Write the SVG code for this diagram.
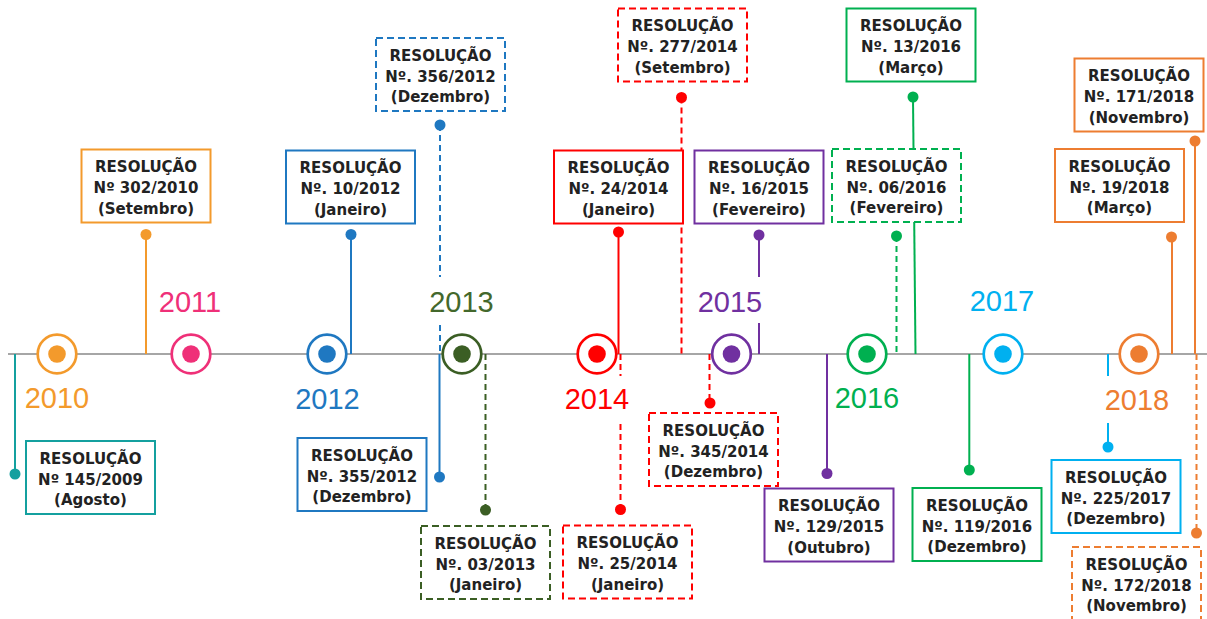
<svg xmlns="http://www.w3.org/2000/svg" width="1207" height="619" viewBox="0 0 1207 619">
<style>
.box{fill:#fff;stroke-width:2}
.d{stroke-dasharray:7 4}
.t{font-family:"DejaVu Sans","Liberation Sans",sans-serif;font-weight:bold;font-size:15px;fill:#222;text-anchor:middle}
.yr{font-family:"Liberation Sans",Arial,sans-serif;font-size:29px;text-anchor:middle}
.ring{fill:#fff;stroke-width:2.7}
.c{fill:none;stroke-width:2}
.cd{fill:none;stroke-width:2;stroke-dasharray:6 4}
.bg{fill:#fff}
</style>
<rect width="1207" height="619" fill="#fff"/>
<line x1="8" y1="354" x2="1207" y2="354" stroke="#a6a6a6" stroke-width="2"/>
<g id="connectors">
<path class="c" stroke="#14a09f" d="M15 354V474"/><circle cx="15" cy="474" r="5.5" fill="#14a09f"/>
<path class="c" stroke="#f39a2c" d="M146 234.5V354"/><circle cx="146" cy="234.5" r="5.5" fill="#f39a2c"/>
<path class="c" stroke="#1f78c1" d="M351 234.5V354"/><circle cx="351" cy="234.5" r="5.5" fill="#1f78c1"/>
<path class="cd" stroke="#1f78c1" d="M440 125V354"/><circle cx="440" cy="125" r="5.5" fill="#1f78c1"/>
<path class="c" stroke="#1f78c1" d="M439.5 354V477"/><circle cx="439.5" cy="477" r="5.5" fill="#1f78c1"/>
<path class="cd" stroke="#3b5e24" d="M485.5 354V510"/><circle cx="485.5" cy="510" r="5.5" fill="#3b5e24"/>
<path class="c" stroke="#ff0000" d="M618.5 232V354"/><circle cx="618.5" cy="232" r="5.5" fill="#ff0000"/>
<path class="cd" stroke="#ff0000" d="M681.5 97.5V354"/><circle cx="681.5" cy="97.5" r="5.5" fill="#ff0000"/>
<path class="cd" stroke="#ff0000" d="M620.5 354V509.5"/><circle cx="620.5" cy="509.5" r="5.5" fill="#ff0000"/>
<path class="cd" stroke="#ff0000" d="M709.5 354V403"/><circle cx="710" cy="403" r="5.5" fill="#ff0000"/>
<path class="c" stroke="#7030a0" d="M759 235V354"/><circle cx="759" cy="235" r="5.5" fill="#7030a0"/>
<path class="c" stroke="#7030a0" d="M827 354V473.5"/><circle cx="827" cy="473.5" r="5.5" fill="#7030a0"/>
<path class="c" stroke="#00b050" d="M913 97L915.5 354"/><circle cx="913" cy="97" r="5.5" fill="#00b050"/>
<path class="cd" stroke="#00b050" d="M896.5 236V354"/><circle cx="896.5" cy="236" r="5.5" fill="#00b050"/>
<path class="c" stroke="#00b050" d="M969.3 354V470"/><circle cx="969.3" cy="470" r="5.5" fill="#00b050"/>
<path class="c" stroke="#ed7d31" d="M1195 141V354"/><circle cx="1195" cy="141" r="5.5" fill="#ed7d31"/>
<path class="c" stroke="#ed7d31" d="M1172 237V354"/><circle cx="1171.5" cy="237" r="5.5" fill="#ed7d31"/>
<path class="c" stroke="#00b0f0" d="M1108 354V447"/><circle cx="1108" cy="447" r="5.5" fill="#00b0f0"/>
<path class="cd" stroke="#ed7d31" d="M1196.5 354V533"/><circle cx="1196.5" cy="533" r="5.5" fill="#ed7d31"/>
</g>
<g id="y2010"><rect class="bg" x="21" y="376" width="72" height="47"/><circle class="ring" cx="57" cy="354" r="19.3" stroke="#f39a2c"/><circle cx="57" cy="354" r="8.8" fill="#f39a2c"/><text class="yr" x="57" y="408" fill="#f39a2c">2010</text></g>
<g id="y2011"><rect class="bg" x="155" y="277" width="72" height="46"/><circle class="ring" cx="191" cy="354" r="19.3" stroke="#ef3078"/><circle cx="191" cy="354" r="8.8" fill="#ef3078"/><text class="yr" x="190" y="312" fill="#ef3078">2011</text></g>
<g id="y2012"><rect class="bg" x="291" y="376" width="72" height="47"/><circle class="ring" cx="327" cy="354" r="19.3" stroke="#1f78c1"/><circle cx="327" cy="354" r="8.8" fill="#1f78c1"/><text class="yr" x="327.5" y="409" fill="#1f78c1">2012</text></g>
<g id="y2013"><rect class="bg" x="425.5" y="277" width="72" height="46"/><circle class="ring" cx="462" cy="354" r="19.3" stroke="#3b5e24"/><circle cx="462" cy="354" r="8.8" fill="#3b5e24"/><text class="yr" x="461.5" y="312" fill="#43682c">2013</text></g>
<g id="y2014"><rect class="bg" x="561" y="376" width="72" height="47"/><circle class="ring" cx="597" cy="354" r="19.3" stroke="#ff0000"/><circle cx="597" cy="354" r="8.8" fill="#ff0000"/><text class="yr" x="597" y="409" fill="#ff0000">2014</text></g>
<g id="y2015"><rect class="bg" x="694" y="277" width="72" height="46"/><circle class="ring" cx="731.5" cy="354" r="19.3" stroke="#7030a0"/><circle cx="731.5" cy="354" r="8.8" fill="#7030a0"/><text class="yr" x="730" y="312" fill="#7030a0">2015</text></g>
<g id="y2016"><rect class="bg" x="831" y="376" width="72" height="47"/><circle class="ring" cx="867" cy="354" r="19.3" stroke="#00b050"/><circle cx="867" cy="354" r="8.8" fill="#00b050"/><text class="yr" x="867" y="408" fill="#00b050">2016</text></g>
<g id="y2017"><rect class="bg" x="966" y="277" width="72" height="46"/><circle class="ring" cx="1003" cy="354" r="19.3" stroke="#00b0f0"/><circle cx="1003" cy="354" r="8.8" fill="#00b0f0"/><text class="yr" x="1002" y="311" fill="#00b0f0">2017</text></g>
<g id="y2018"><rect class="bg" x="1101" y="376" width="72" height="47"/><circle class="ring" cx="1139" cy="354" r="19.3" stroke="#ed7d31"/><circle cx="1139" cy="354" r="8.8" fill="#ed7d31"/><text class="yr" x="1137" y="410" fill="#ed7d31">2018</text></g>

<g id="r302-2010"><rect class="box" x="81.5" y="149.5" width="129" height="73" stroke="#f39a2c"/><text class="t"><tspan x="146" y="172">RESOLUÇÃO</tspan><tspan x="146" y="193">Nº 302/2010</tspan><tspan x="146" y="213.5">(Setembro)</tspan></text></g>
<g id="r145-2009"><rect class="box" x="26" y="441" width="129" height="73" stroke="#14a09f"/><text class="t"><tspan x="90.5" y="463.5">RESOLUÇÃO</tspan><tspan x="90.5" y="484.5">Nº 145/2009</tspan><tspan x="90.5" y="505">(Agosto)</tspan></text></g>
<g id="r10-2012"><rect class="box" x="286" y="150.5" width="129" height="73" stroke="#1f78c1"/><text class="t"><tspan x="350.5" y="173">RESOLUÇÃO</tspan><tspan x="350.5" y="194">Nº. 10/2012</tspan><tspan x="350.5" y="214.5">(Janeiro)</tspan></text></g>
<g id="r356-2012"><rect class="box d" x="376" y="38" width="129" height="73" stroke="#1f78c1"/><text class="t"><tspan x="440.5" y="60.5">RESOLUÇÃO</tspan><tspan x="440.5" y="81.5">Nº. 356/2012</tspan><tspan x="440.5" y="102">(Dezembro)</tspan></text></g>
<g id="r355-2012"><rect class="box" x="297.5" y="438" width="129" height="73" stroke="#1f78c1"/><text class="t"><tspan x="362" y="460.5">RESOLUÇÃO</tspan><tspan x="362" y="481.5">Nº. 355/2012</tspan><tspan x="362" y="502">(Dezembro)</tspan></text></g>
<g id="r03-2013"><rect class="box d" x="421" y="526" width="129" height="73" stroke="#3b5e24"/><text class="t"><tspan x="485.5" y="548.5">RESOLUÇÃO</tspan><tspan x="485.5" y="569.5">Nº. 03/2013</tspan><tspan x="485.5" y="590">(Janeiro)</tspan></text></g>
<g id="r24-2014"><rect class="box" x="554" y="150.5" width="129" height="73" stroke="#ff0000"/><text class="t"><tspan x="618.5" y="173">RESOLUÇÃO</tspan><tspan x="618.5" y="194">Nº. 24/2014</tspan><tspan x="618.5" y="214.5">(Janeiro)</tspan></text></g>
<g id="r277-2014"><rect class="box d" x="618" y="8.5" width="129" height="73" stroke="#ff0000"/><text class="t"><tspan x="682.5" y="31">RESOLUÇÃO</tspan><tspan x="682.5" y="52">Nº. 277/2014</tspan><tspan x="682.5" y="72.5">(Setembro)</tspan></text></g>
<g id="r25-2014"><rect class="box d" x="563" y="525.5" width="129" height="73" stroke="#ff0000"/><text class="t"><tspan x="627.5" y="548">RESOLUÇÃO</tspan><tspan x="627.5" y="569">Nº. 25/2014</tspan><tspan x="627.5" y="589.5">(Janeiro)</tspan></text></g>
<g id="r345-2014"><rect class="box d" x="649" y="413" width="129" height="73" stroke="#ff0000"/><text class="t"><tspan x="713.5" y="435.5">RESOLUÇÃO</tspan><tspan x="713.5" y="456.5">Nº. 345/2014</tspan><tspan x="713.5" y="477">(Dezembro)</tspan></text></g>
<g id="r16-2015"><rect class="box" x="694.5" y="150.5" width="129" height="73" stroke="#7030a0"/><text class="t"><tspan x="759" y="173">RESOLUÇÃO</tspan><tspan x="759" y="194">Nº. 16/2015</tspan><tspan x="759" y="214.5">(Fevereiro)</tspan></text></g>
<g id="r129-2015"><rect class="box" x="764.5" y="488.5" width="129" height="73" stroke="#7030a0"/><text class="t"><tspan x="829" y="511">RESOLUÇÃO</tspan><tspan x="829" y="532">Nº. 129/2015</tspan><tspan x="829" y="552.5">(Outubro)</tspan></text></g>
<g id="r13-2016"><rect class="box" x="846.5" y="8.5" width="129" height="73" stroke="#00b050"/><text class="t"><tspan x="911" y="31">RESOLUÇÃO</tspan><tspan x="911" y="52">Nº. 13/2016</tspan><tspan x="911" y="72.5">(Março)</tspan></text></g>
<g id="r06-2016"><rect class="box d" x="832" y="149" width="129" height="73" stroke="#00b050"/><text class="t"><tspan x="896.5" y="171.5">RESOLUÇÃO</tspan><tspan x="896.5" y="192.5">Nº. 06/2016</tspan><tspan x="896.5" y="213">(Fevereiro)</tspan></text></g>
<g id="r119-2016"><rect class="box" x="912.5" y="488" width="129" height="73" stroke="#00b050"/><text class="t"><tspan x="977" y="510.5">RESOLUÇÃO</tspan><tspan x="977" y="531.5">Nº. 119/2016</tspan><tspan x="977" y="552">(Dezembro)</tspan></text></g>
<g id="r171-2018"><rect class="box" x="1074.5" y="58.5" width="129" height="73" stroke="#ed7d31"/><text class="t"><tspan x="1139" y="81">RESOLUÇÃO</tspan><tspan x="1139" y="102">Nº. 171/2018</tspan><tspan x="1139" y="122.5">(Novembro)</tspan></text></g>
<g id="r19-2018"><rect class="box" x="1055" y="149" width="129" height="73" stroke="#ed7d31"/><text class="t"><tspan x="1119.5" y="171.5">RESOLUÇÃO</tspan><tspan x="1119.5" y="192.5">Nº. 19/2018</tspan><tspan x="1119.5" y="213">(Março)</tspan></text></g>
<g id="r225-2017"><rect class="box" x="1051.5" y="460" width="129" height="73" stroke="#00b0f0"/><text class="t"><tspan x="1116" y="482.5">RESOLUÇÃO</tspan><tspan x="1116" y="503.5">Nº. 225/2017</tspan><tspan x="1116" y="524">(Dezembro)</tspan></text></g>
<g id="r172-2018"><rect class="box d" x="1072" y="547" width="129" height="74" stroke="#ed7d31"/><text class="t"><tspan x="1136.5" y="569.5">RESOLUÇÃO</tspan><tspan x="1136.5" y="590.5">Nº. 172/2018</tspan><tspan x="1136.5" y="610.5">(Novembro)</tspan></text></g>
</svg>
